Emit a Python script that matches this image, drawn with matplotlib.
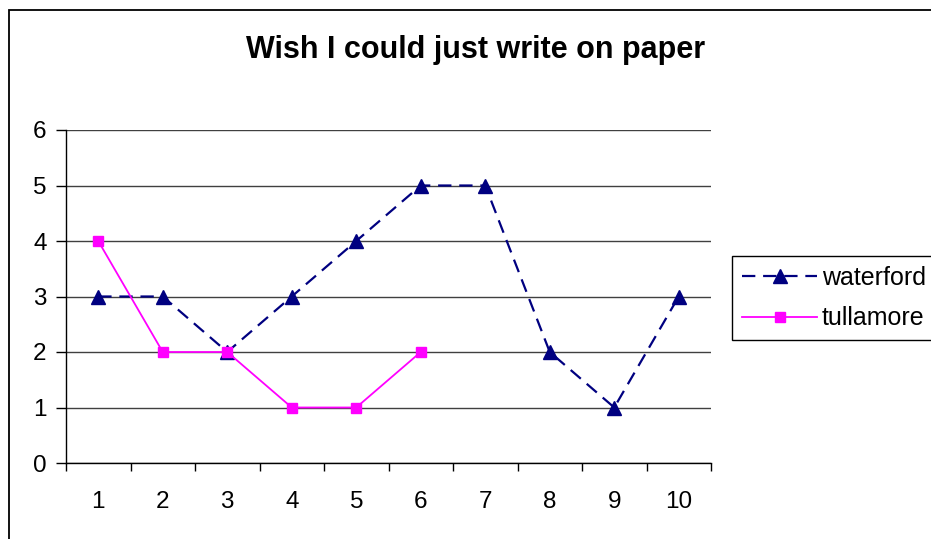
import matplotlib.pyplot as plt
from matplotlib.patches import Rectangle
from matplotlib.ticker import MultipleLocator

plt.rcParams['font.family'] = ['Liberation Sans', 'DejaVu Sans']

categorias = [1, 2, 3, 4, 5, 6, 7, 8, 9, 10]
waterford = [3, 3, 2, 3, 4, 5, 5, 2, 1, 3]
tullamore = [4, 2, 2, 1, 1, 2]

W, H = 931, 539
fig = plt.figure(figsize=(W / 100, H / 100), dpi=100)
ax = fig.add_axes([66 / W, 1 - 463 / H, (711 - 66) / W, (463 - 130) / H])

# marco del grafico (solo se ve arriba y a la izquierda)
fig.add_artist(Rectangle((9 / W, -0.1), 1.2, (H - 10) / H + 0.1,
                         transform=fig.transFigure, fill=False,
                         edgecolor='black', lw=1.3))

ax.plot(categorias, waterford, color='#000080', lw=1.6, dashes=(6, 3.5),
        marker='^', markersize=9.5, label='waterford')
ax.plot(categorias[:len(tullamore)], tullamore, color='#FF00FF', lw=1.3,
        marker='s', markersize=7, label='tullamore')

ax.set_xlim(0.5, 10.5)
ax.set_ylim(0, 6)
ax.set_yticks(range(7))
ax.set_xticks(categorias)
ax.xaxis.set_minor_locator(MultipleLocator(1, offset=0.5))
ax.tick_params(axis='x', which='major', length=0, pad=20, labelsize=17.5)
ax.tick_params(axis='x', which='minor', length=6, width=1, direction='out')
ax.tick_params(axis='y', length=7, width=1, pad=7, labelsize=17.5)
ax.yaxis.grid(True, color='#404040', lw=1)
ax.set_axisbelow(True)
for lado in ['top', 'right']:
    ax.spines[lado].set_visible(False)
ax.spines['left'].set_linewidth(1)
ax.spines['bottom'].set_linewidth(1)

fig.text(476 / W, 1 - 50 / H, 'Wish I could just write on paper',
         ha='center', va='center', fontsize=22, fontweight='bold')

leg = fig.legend(loc='upper left', bbox_to_anchor=(732 / W, 1 - 256 / H),
                 fontsize=18, fancybox=False, framealpha=1, edgecolor='black',
                 handlelength=3.0, borderpad=0.4, labelspacing=0.65,
                 handletextpad=0.2, borderaxespad=0)
leg.get_frame().set_linewidth(1)

plt.savefig('out.png', dpi=100)
